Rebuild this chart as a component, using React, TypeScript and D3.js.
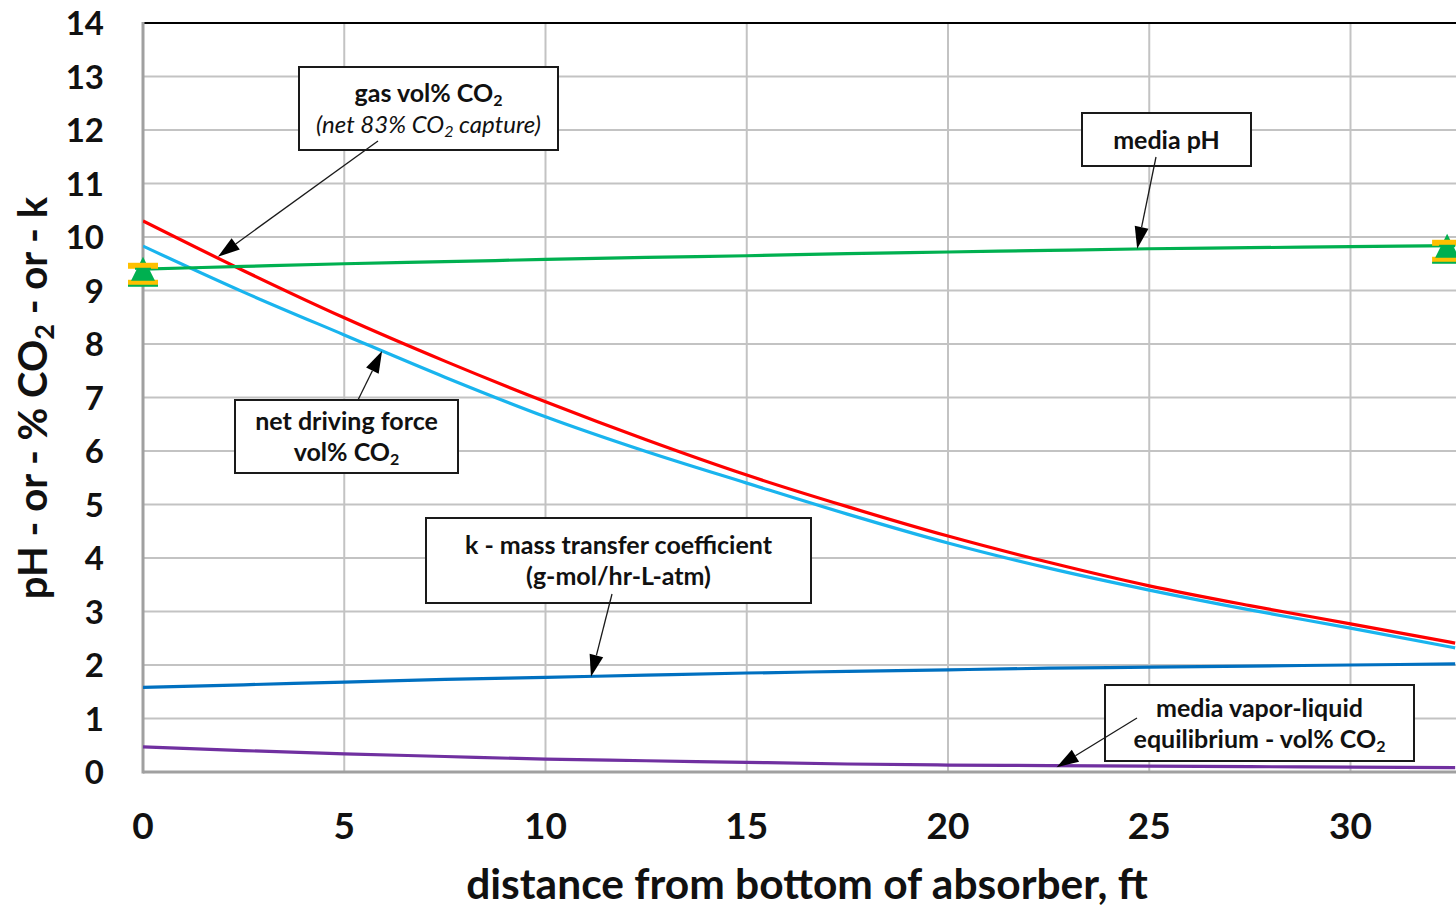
import React from "react";
import * as d3 from "d3";

// ---- data ----
const distance = [0, 2.5, 5, 7.5, 10, 12.5, 15, 17.5, 20, 22.5, 25, 27.5, 30, 32.6];
const gasCO2 = [10.3, 9.37, 8.49, 7.68, 6.92, 6.21, 5.55, 4.96, 4.41, 3.92, 3.48, 3.11, 2.77, 2.41];
const drivingForce = [9.83, 8.97, 8.17, 7.38, 6.64, 5.99, 5.4, 4.82, 4.28, 3.81, 3.4, 3.03, 2.69, 2.32];
const mediaPH = [9.4, 9.45, 9.5, 9.54, 9.58, 9.62, 9.65, 9.69, 9.72, 9.75, 9.78, 9.8, 9.82, 9.84];
const kCoef = [1.58, 1.63, 1.68, 1.73, 1.77, 1.81, 1.85, 1.88, 1.91, 1.94, 1.96, 1.98, 2.0, 2.02];
const vle = [0.47, 0.4, 0.34, 0.29, 0.24, 0.21, 0.18, 0.15, 0.13, 0.12, 0.11, 0.1, 0.09, 0.08];

const measuredX = [0, 32.4];
const measuredPH = [9.35, 9.78];

const xTicks = [0, 5, 10, 15, 20, 25, 30, 35];
const yTicks = [0, 1, 2, 3, 4, 5, 6, 7, 8, 9, 10, 11, 12, 13, 14];

const FONT = "Lato, 'Open Sans', sans-serif";

export default function App() {
  const W = 1456, H = 907;
  const x = d3.scaleLinear().domain([0, 35]).range([143, 143 + 35 * 40.25]);
  const y = d3.scaleLinear().domain([0, 14]).range([772, 23]);

  const mk = (vals: number[]) =>
    d3.line<number>()
      .x((_, i) => x(distance[i]))
      .y((v) => y(v))
      .curve(d3.curveMonotoneX)(vals) || "";

  const series = [
    { vals: vle, color: "#7030a0" },
    { vals: kCoef, color: "#0070c0" },
    { vals: drivingForce, color: "#19b4ee" },
    { vals: gasCO2, color: "#ff0000" },
    { vals: mediaPH, color: "#00b050" },
  ];

  type Ann = {
    bx: number; by: number; bw: number; bh: number;
    from: [number, number]; tip: [number, number];
    lines: React.ReactNode[];
  };
  const sub = (t: string, fs = 16) => (
    <tspan baselineShift="-25%" fontSize={fs}>{t}</tspan>
  );
  const anns: Ann[] = [
    {
      bx: 299, by: 67, bw: 259, bh: 83, from: [378, 141], tip: [1.86, 9.63],
      lines: [
        <tspan fontWeight="bold">gas vol% CO{sub("2")}</tspan>,
        <tspan fontStyle="italic" fontWeight="normal" fontSize={24}>(net 83% CO{sub("2")} capture)</tspan>,
      ],
    },
    {
      bx: 1082, by: 113, bw: 169, bh: 53, from: [1156, 157], tip: [24.7, 9.78],
      lines: [<tspan fontWeight="bold">media pH</tspan>],
    },
    {
      bx: 235, by: 400, bw: 223, bh: 73, from: [358, 400], tip: [5.94, 7.87],
      lines: [
        <tspan fontWeight="bold">net driving force</tspan>,
        <tspan fontWeight="bold">vol% CO{sub("2")}</tspan>,
      ],
    },
    {
      bx: 426, by: 518, bw: 385, bh: 85, from: [612, 594], tip: [11.13, 1.78],
      lines: [
        <tspan fontWeight="bold">k - mass transfer coefficient</tspan>,
        <tspan fontWeight="bold">(g-mol/hr-L-atm)</tspan>,
      ],
    },
    {
      bx: 1105, by: 685, bw: 309, bh: 76, from: [1137, 718], tip: [22.7, 0.09],
      lines: [
        <tspan fontWeight="bold">media vapor-liquid</tspan>,
        <tspan fontWeight="bold">equilibrium - vol% CO{sub("2")}</tspan>,
      ],
    },
  ];

  return (
    <svg width={W} height={H} style={{ position: "absolute", left: 0, top: 0, background: "#fff" }} fontFamily={FONT}>
      <defs>
        <clipPath id="plot">
          <rect x={x(0)} y={y(14) - 2} width={W - x(0)} height={y(0) - y(14) + 4} />
        </clipPath>
      </defs>
      {/* gridlines */}
      {yTicks.filter((t) => t > 0 && t < 14).map((t) => (
        <line key={"gy" + t} x1={x(0)} x2={W} y1={y(t)} y2={y(t)} stroke="#c3c3c3" strokeWidth={2} />
      ))}
      {xTicks.filter((t) => t > 0).map((t) => (
        <line key={"gx" + t} x1={x(t)} x2={x(t)} y1={y(14)} y2={y(0)} stroke="#c3c3c3" strokeWidth={2} />
      ))}
      {/* top border */}
      <line x1={x(0)} x2={W} y1={y(14)} y2={y(14)} stroke="#000" strokeWidth={2} />
      {/* axes */}
      <line x1={x(0)} x2={W} y1={y(0)} y2={y(0)} stroke="#a0a0a0" strokeWidth={3} />
      <line x1={x(0)} x2={x(0)} y1={y(14) - 1} y2={y(0) + 1.5} stroke="#a0a0a0" strokeWidth={3} />

      {/* series */}
      <g clipPath="url(#plot)">
        {series.map((s, i) => (
          <path key={i} d={mk(s.vals)} fill="none" stroke={s.color} strokeWidth={3.2} />
        ))}
      </g>

      {/* measured pH markers */}
      {measuredX.map((mx, i) => {
        const cx = x(mx), cy = y(measuredPH[i]);
        return (
          <g key={"m" + i}>
            <rect x={cx - 15} y={cy + 8} width={30} height={6} fill="#ffc000" />
            <rect x={cx - 15} y={cy + 13} width={30} height={2} fill="#00b050" />
            <path d={`M${cx},${cy - 15} L${cx + 12},${cy + 9} L${cx - 12},${cy + 9} Z`} fill="#00b050" />
            <rect x={cx - 15} y={cy - 9} width={30} height={6} fill="#ffc000" />
            <rect x={cx - 8} y={cy - 4} width={16} height={2} fill="#00b050" />
          </g>
        );
      })}

      {/* annotations */}
      {anns.map((a, i) => {
        const tx = x(a.tip[0]), ty = y(a.tip[1]);
        const [fx, fy] = a.from;
        const ang = Math.atan2(ty - fy, tx - fx);
        const L = 22, hw = 7;
        const bxp = tx - L * Math.cos(ang), byp = ty - L * Math.sin(ang);
        const p1 = [bxp + hw * Math.sin(ang), byp - hw * Math.cos(ang)];
        const p2 = [bxp - hw * Math.sin(ang), byp + hw * Math.cos(ang)];
        const n = a.lines.length;
        const lh = 31;
        const cyBox = a.by + a.bh / 2;
        return (
          <g key={"a" + i}>
            <rect x={a.bx} y={a.by} width={a.bw} height={a.bh} fill="#fff" stroke="#1a1a1a" strokeWidth={2} />
            <line x1={fx} y1={fy} x2={bxp} y2={byp} stroke="#1a1a1a" strokeWidth={1.3} />
            <path d={`M${tx},${ty} L${p1[0]},${p1[1]} L${p2[0]},${p2[1]} Z`} fill="#000" />
            {a.lines.map((ln, j) => (
              <text key={j} x={a.bx + a.bw / 2} y={cyBox + (j - (n - 1) / 2) * lh + 9}
                textAnchor="middle" fontSize={25} fill="#111">{ln}</text>
            ))}
          </g>
        );
      })}

      {/* tick labels */}
      {yTicks.map((t) => (
        <text key={"yl" + t} x={104} y={y(t) + 12} textAnchor="end" fontSize={33} fontWeight="bold" fill="#111">{t}</text>
      ))}
      {xTicks.filter((t) => x(t) < W - 20).map((t) => (
        <text key={"xl" + t} x={x(t)} y={839} textAnchor="middle" fontSize={37} fontWeight="bold" fill="#111">{t}</text>
      ))}

      {/* axis titles */}
      <text x={807} y={899} textAnchor="middle" fontSize={42.5} fontWeight="bold" fill="#111">distance from bottom of absorber, ft</text>
      <text transform="translate(47,398) rotate(-90)" textAnchor="middle" fontSize={40} fontWeight="bold" fill="#111">
        pH - or - % CO<tspan baselineShift="-25%" fontSize="27">2</tspan> - or - k
      </text>
    </svg>
  );
}
